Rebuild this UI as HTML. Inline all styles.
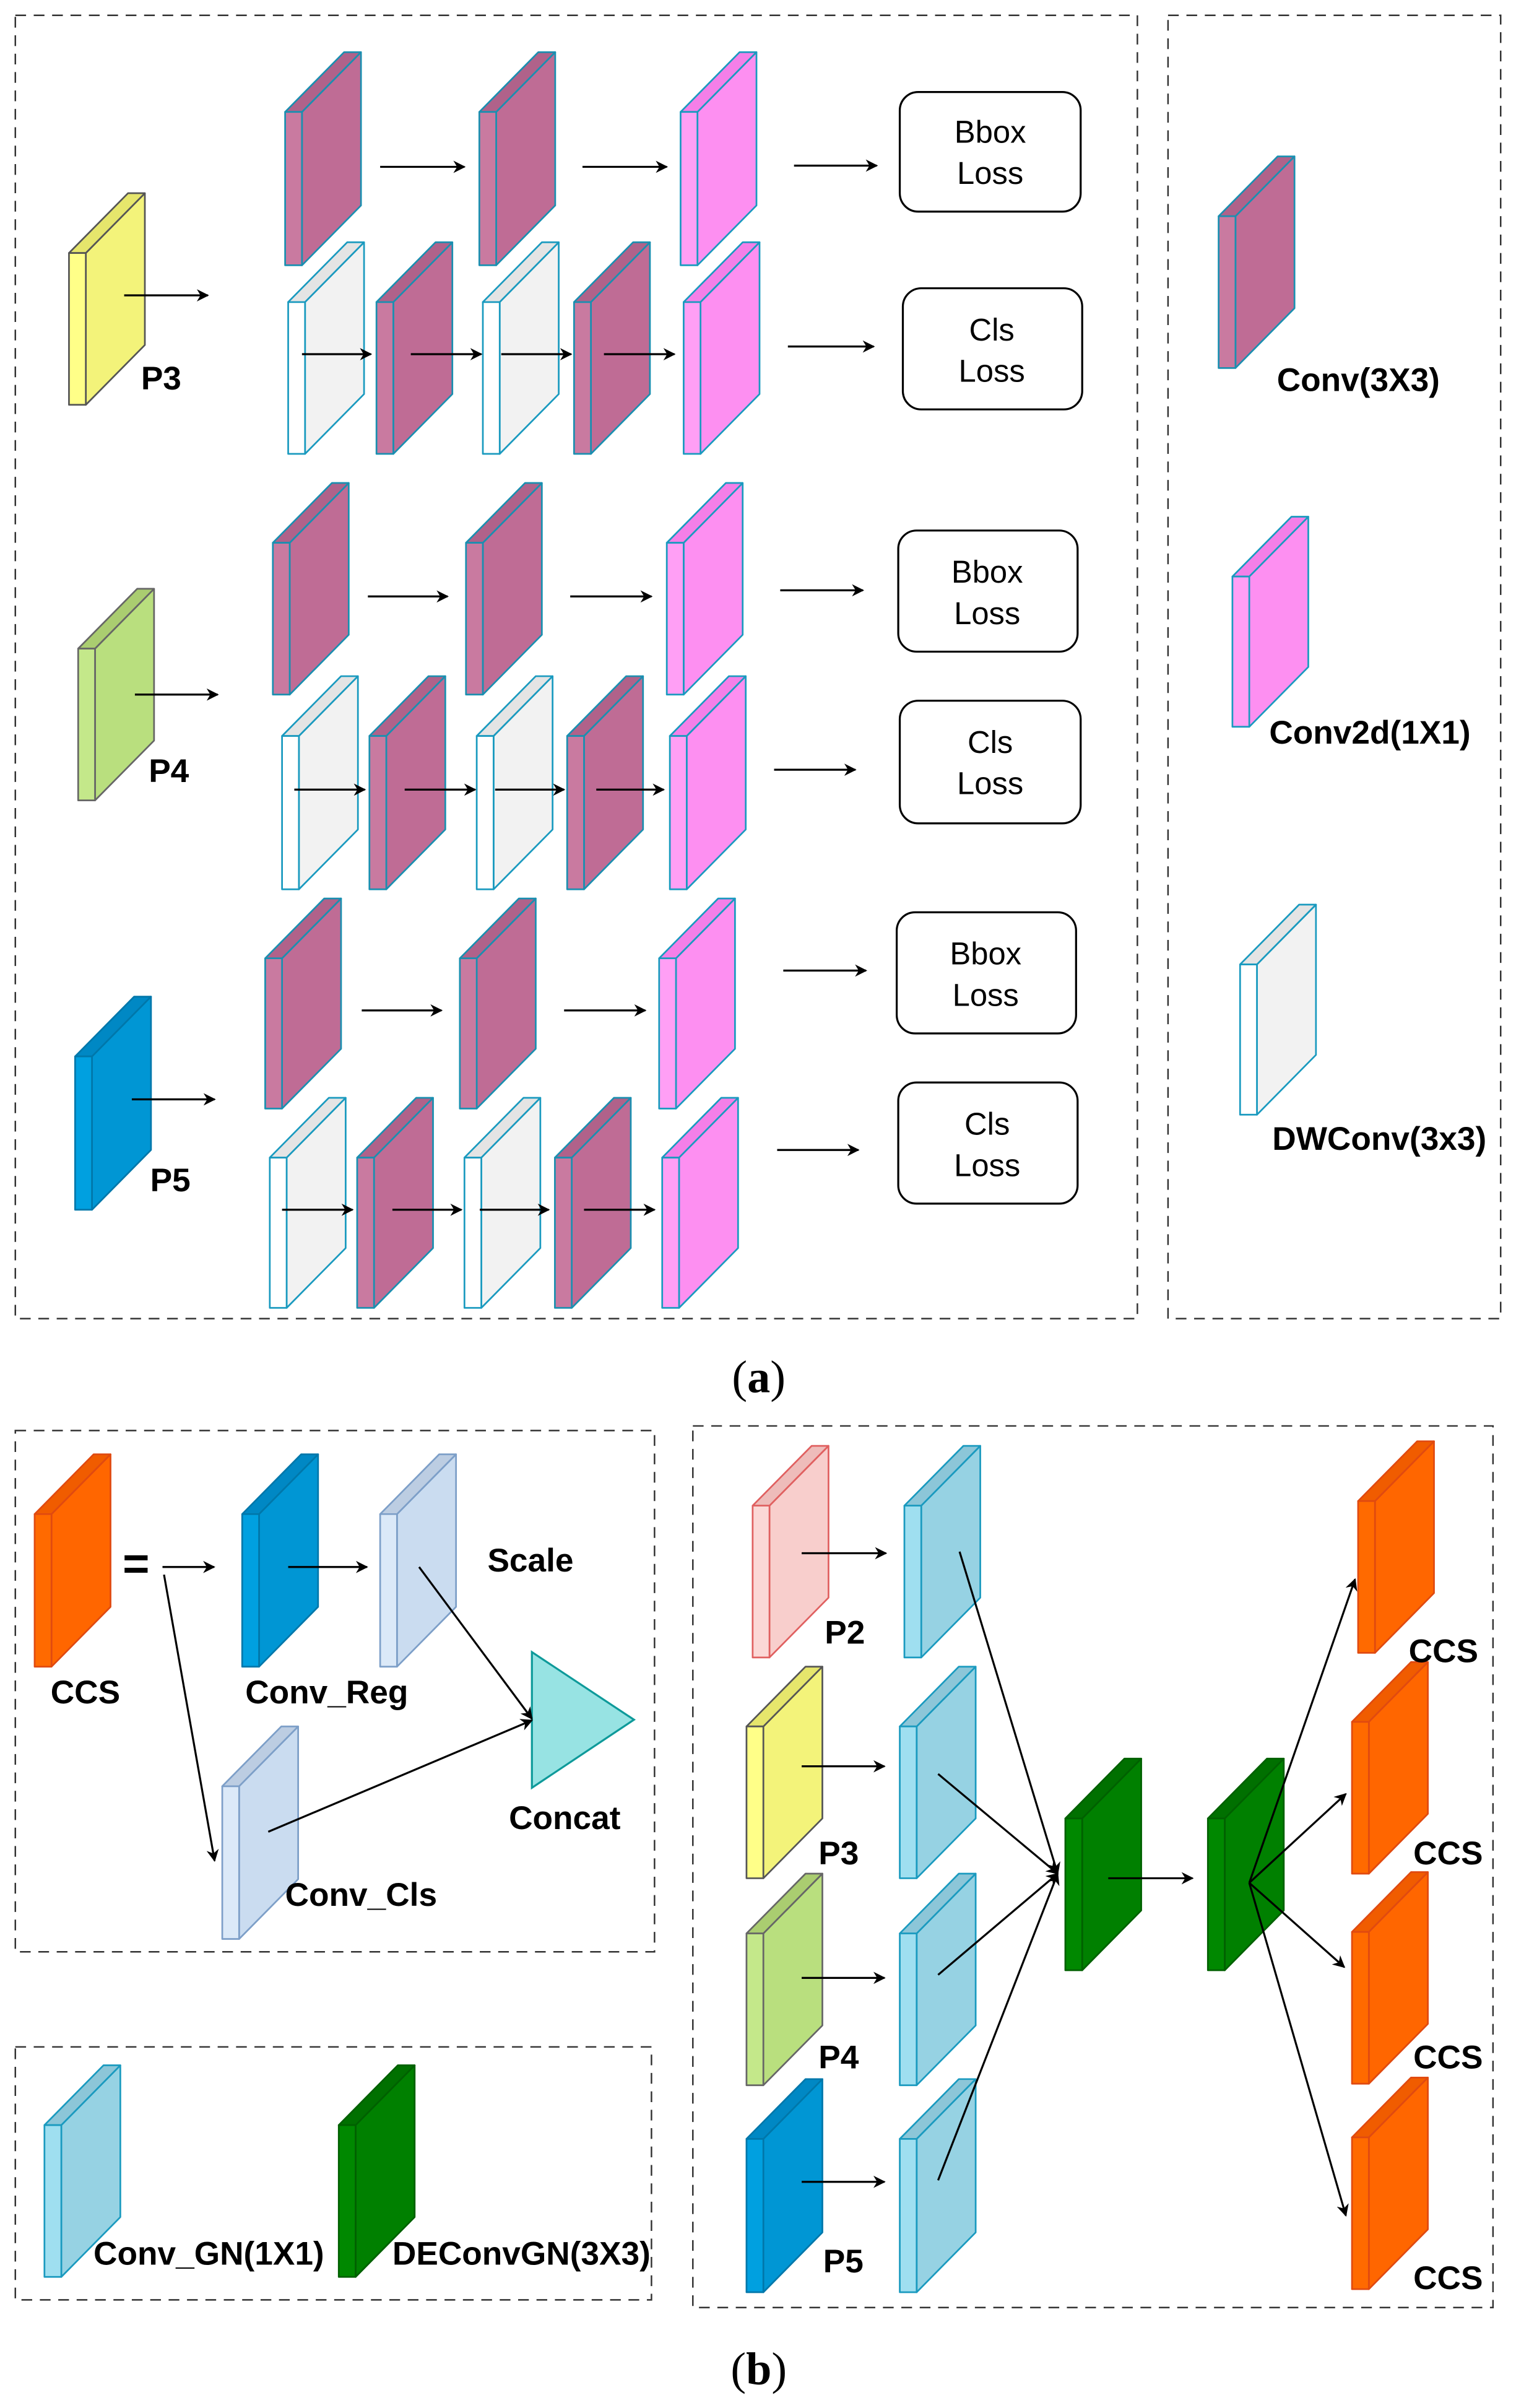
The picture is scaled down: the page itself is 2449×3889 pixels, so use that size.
<!DOCTYPE html>
<html><head><meta charset="utf-8"><style>html,body{margin:0;padding:0;background:#fff}svg{display:block}</style></head>
<body>
<svg id="s" xmlns="http://www.w3.org/2000/svg" width="2449" height="3889" viewBox="0 0 989 1570.5">
<defs><marker id="ah" viewBox="0 0 10 10" refX="9" refY="5" markerWidth="8" markerHeight="8" orient="auto" markerUnits="userSpaceOnUse"><path d="M0,0 L10,5 L0,10 L3,5 z" fill="#000"/></marker></defs>
<rect width="989" height="1571" fill="#fff"/>
<g fill="none" stroke="#333" stroke-width="1" stroke-dasharray="7,5">
<rect x="10" y="10" width="732" height="850"/>
<rect x="762" y="10" width="217" height="850"/>
<rect x="10" y="933" width="417" height="340"/>
<rect x="10" y="1335" width="415" height="165"/>
<rect x="452" y="930" width="522" height="575"/>
</g>
<g id="blocks"></g>
<g fill="#fff" stroke="#000" stroke-width="1.3">
<rect x="587" y="60" width="118" height="78" rx="12"/>
<rect x="589" y="188" width="117" height="79" rx="12"/>
<rect x="586" y="346" width="117" height="79" rx="12"/>
<rect x="587" y="457" width="118" height="80" rx="12"/>
<rect x="585" y="595" width="117" height="79" rx="12"/>
<rect x="586" y="706" width="117" height="79" rx="12"/>
</g>
<polygon points="347,1077.5 347,1166 413.6,1121.6" fill="#97e3e3" stroke="#0e9a9a" stroke-width="1.3"/>
<g id="arrows" stroke="#000" stroke-width="1.3" fill="none"></g>
<g font-family="Liberation Sans, sans-serif" font-size="20.5" fill="#000" text-anchor="middle">
<text x="646" y="93">Bbox</text><text x="646" y="120">Loss</text>
<text x="647" y="222">Cls</text><text x="647" y="249">Loss</text>
<text x="644" y="380">Bbox</text><text x="644" y="407">Loss</text>
<text x="646" y="491">Cls</text><text x="646" y="518">Loss</text>
<text x="643" y="629">Bbox</text><text x="643" y="656">Loss</text>
<text x="644" y="740">Cls</text><text x="644" y="767">Loss</text>
</g>
<g font-family="Liberation Sans, sans-serif" font-size="21.5" font-weight="bold" fill="#000">
<text x="92" y="254">P3</text>
<text x="97" y="510">P4</text>
<text x="98" y="777">P5</text>
<text x="833" y="255">Conv(3X3)</text>
<text x="828" y="485">Conv2d(1X1)</text>
<text x="830" y="750">DWConv(3x3)</text>
<text x="33" y="1111">CCS</text>
<text x="160" y="1111">Conv_Reg</text>
<text x="318" y="1025">Scale</text>
<text x="332" y="1193">Concat</text>
<text x="186" y="1243">Conv_Cls</text>
<text x="61" y="1477">Conv_GN(1X1)</text>
<text x="256" y="1477">DEConvGN(3X3)</text>
<text x="538" y="1072">P2</text>
<text x="534" y="1216">P3</text>
<text x="534" y="1349">P4</text>
<text x="537" y="1482">P5</text>
<text x="919" y="1084">CCS</text>
<text x="922" y="1216">CCS</text>
<text x="922" y="1349">CCS</text>
<text x="922" y="1493">CCS</text>
</g>
<text x="80" y="1030" font-family="Liberation Sans, sans-serif" font-size="30" font-weight="bold">=</text>
<g font-family="Liberation Serif, serif" font-size="30" text-anchor="middle">
<text x="495" y="908">(<tspan font-weight="bold">a</tspan>)</text>
<text x="495" y="1555">(<tspan font-weight="bold">b</tspan>)</text>
</g>
</svg>
<script>
var NS="http://www.w3.org/2000/svg";
var C={
 m:["#c97aa0","#bf6c95","#b0628a","#1a8fb0"],
 k:["#ff9ff5","#fd8ff1","#f47fe8","#1a9abf"],
 w:["#ffffff","#f2f2f2","#e4e4e4","#1a9abf"],
 y:["#ffff88","#f3f37a","#e6e66c","#555555"],
 g:["#c4e88a","#b9df7e","#aacd70","#666666"],
 b:["#00a0e0","#0096d4","#0088c4","#0077aa"],
 o:["#ff6a00","#ff6600","#f05c00","#e04a10"],
 lb:["#dbe9f8","#cadcf0","#bccde2","#7d9fc8"],
 c:["#9fdff0","#96d2e3","#8cc6d8","#1a9abf"],
 dg:["#008800","#008000","#007000","#006000"],
 p:["#fbd8d6","#f8cecc","#eebcba","#e06060"]
};
var gB=document.getElementById("blocks");
function poly(pts,f,s){var p=document.createElementNS(NS,"polygon");p.setAttribute("points",pts.map(function(a){return a.join(",")}).join(" "));p.setAttribute("fill",f);p.setAttribute("stroke",s);p.setAttribute("stroke-width","1.1");p.setAttribute("stroke-linejoin","round");gB.appendChild(p);}
function blk(x,y,h,c,w,d){w=w||11;d=d||38.5;var e=39;var k=C[c];
 poly([[x+w,y],[x+w+d,y-e],[x+w+d,y-e+h],[x+w,y+h]],k[1],k[3]);
 poly([[x,y],[x+w,y],[x+w+d,y-e],[x+d,y-e]],k[2],k[3]);
 poly([[x,y],[x+w,y],[x+w,y+h],[x,y+h]],k[0],k[3]);}
blk(45,165,99,"y");
[[186,"m"],[312.7,"m"],[444,"k"]].forEach(function(a){blk(a[0],73,100,a[1]);});
[[188,"w"],[245.6,"m"],[315,"w"],[374.5,"m"],[446,"k"]].forEach(function(a){blk(a[0],197,99,a[1]);});
blk(51,423,99,"g");
[[178,"m"],[304,"m"],[435,"k"]].forEach(function(a){blk(a[0],354,99,a[1]);});
[[184,"w"],[241,"m"],[311,"w"],[370,"m"],[437,"k"]].forEach(function(a){blk(a[0],480,100,a[1]);});
blk(49,689,100,"b");
[[173,"m"],[300,"m"],[430,"k"]].forEach(function(a){blk(a[0],625,98,a[1]);});
[[176,"w"],[233,"m"],[303,"w"],[362,"m"],[432,"k"]].forEach(function(a){blk(a[0],755,98,a[1]);});
blk(795,141,99,"m");blk(804,376,98,"k");blk(809,629,98,"w");
blk(22.6,987.5,99.5,"o");blk(158,987.5,99.5,"b");blk(248,987.5,99.5,"lb");blk(145,1165,99.6,"lb");
blk(29,1386,99,"c");blk(221,1386,99,"dg");
blk(491,982,99,"p");blk(590,982,99,"c");
blk(487,1126,99,"y");blk(587,1126,99,"c");
blk(487,1261,99,"g");blk(587,1261,99,"c");
blk(487,1395,100,"b");blk(587,1395,100,"c");
blk(695,1186,99,"dg");blk(788,1186,99,"dg");
blk(886,979,99,"o");blk(882,1123,99,"o");blk(882,1260,99,"o");blk(882,1394,99,"o");
var gA=document.getElementById("arrows");
function ar(x1,y1,x2,y2){var l=document.createElementNS(NS,"line");l.setAttribute("x1",x1);l.setAttribute("y1",y1);l.setAttribute("x2",x2);l.setAttribute("y2",y2);l.setAttribute("marker-end","url(#ah)");gA.appendChild(l);}
ar(81,192.6,135.6,192.6);
ar(248,108.8,303,108.8);ar(380,108.8,435,108.8);ar(518,108,572,108);
ar(197,231,242,231);ar(268,231,314,231);ar(327,231,372.6,231);ar(394,231,440,231);ar(514,226,570,226);
ar(88,453,142,453);
ar(240,389,292,389);ar(372,389,425,389);ar(509,385,563,385);
ar(192,515,238,515);ar(264,515,310,515);ar(323,515,368,515);ar(389,515,433,515);ar(505,502,558,502);
ar(86,717,140,717);
ar(236,659,288,659);ar(368,659,421,659);ar(511,633,565,633);
ar(184,789,230,789);ar(256,789,301,789);ar(313,789,358,789);ar(381,789,427,789);ar(507,750,560,750);
ar(106,1022,139.7,1022);ar(188,1022,239.4,1022);
ar(107,1027,140,1213.6);
ar(273.4,1022,347,1121);ar(175,1194.7,347,1122);
ar(523,1013,578,1013);ar(523,1152,577,1152);ar(523,1290,577,1290);ar(523,1423,577,1423);
ar(626,1012,690,1222);ar(612,1157,690,1222);ar(612,1288,690,1222);ar(612,1422,690,1222);
ar(723,1225,778,1225);
ar(815,1228,884,1030);ar(815,1228,878,1170);ar(815,1228,877,1283);ar(815,1228,878,1445);
</script>
</body></html>
